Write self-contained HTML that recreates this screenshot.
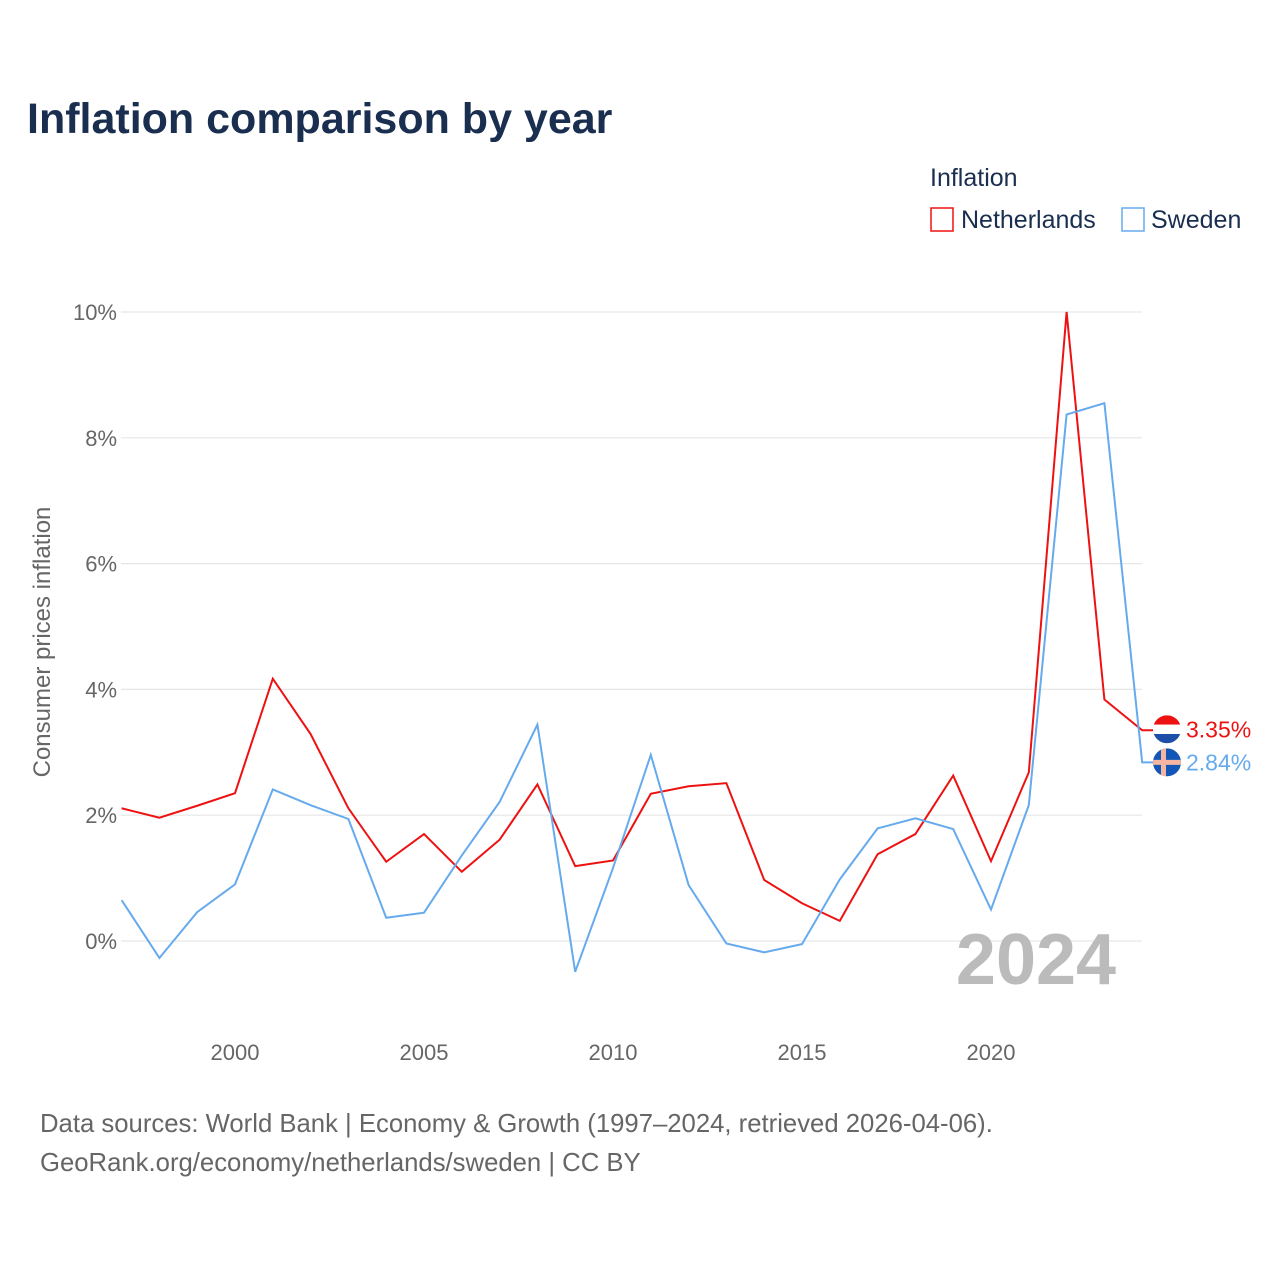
<!DOCTYPE html>
<html><head><meta charset="utf-8"><style>
body{margin:0;background:#fff;font-family:"Liberation Sans",sans-serif}
</style></head><body>
<svg width="1280" height="1280" viewBox="0 0 1280 1280" style="display:block">
<text x="27" y="133" font-size="43" font-weight="bold" fill="#1a2e4f">Inflation comparison by year</text>
<text x="930" y="186" font-size="25" fill="#1a2e4f">Inflation</text>
<g><rect x="931" y="208" width="22" height="23" fill="none" stroke="#ee1111" stroke-width="1.5"/><text x="961" y="228" font-size="25" fill="#1a2e4f">Netherlands</text></g>
<g><rect x="1122" y="208" width="22" height="23" fill="none" stroke="#66aaee" stroke-width="1.5"/><text x="1151" y="228" font-size="25" fill="#1a2e4f">Sweden</text></g>
<g id="grid"></g><g id="xt"></g>
<text x="1036" y="984" font-size="72" font-weight="bold" fill="#bbbbbb" text-anchor="middle">2024</text>
<text transform="translate(50,642) rotate(-90)" font-size="24" fill="#666" text-anchor="middle">Consumer prices inflation</text>
<g id="lines"></g>
<text x="40" y="1132" font-size="25.7" fill="#666">Data sources: World Bank | Economy &amp; Growth (1997–2024, retrieved 2026-04-06).</text>
<text x="40" y="1171" font-size="25.7" fill="#666">GeoRank.org/economy/netherlands/sweden | CC BY</text>
</svg>
<script>
const years=[1997,1998,1999,2000,2001,2002,2003,2004,2005,2006,2007,2008,2009,2010,2011,2012,2013,2014,2015,2016,2017,2018,2019,2020,2021,2022,2023,2024];
const netherlands=[2.11,1.96,2.15,2.35,4.17,3.29,2.11,1.26,1.70,1.10,1.61,2.49,1.19,1.28,2.34,2.46,2.51,0.97,0.60,0.32,1.38,1.70,2.63,1.27,2.68,10.0,3.84,3.35];
const sweden=[0.65,-0.27,0.46,0.90,2.41,2.16,1.94,0.37,0.45,1.36,2.21,3.44,-0.49,1.16,2.96,0.89,-0.04,-0.18,-0.05,0.98,1.79,1.95,1.78,0.50,2.16,8.37,8.55,2.84];
const yTicks=[0,2,4,6,8,10];
const xTicks=[2000,2005,2010,2015,2020];
const NS="http://www.w3.org/2000/svg";
const X=y=>235+(y-2000)*37.8, Y=v=>941-v*62.9;
function mk(t,a,p){const e=document.createElementNS(NS,t);for(const k in a)e.setAttribute(k,a[k]);p.appendChild(e);return e;}
const g=document.getElementById('grid');
yTicks.forEach(v=>{
 const l=mk('line',{x1:121,x2:1142,y1:Y(v),y2:Y(v),stroke:'#e6e6e6','stroke-width':1.2},g);
 
 
 const t=mk('text',{x:117,y:Y(v)+8,'font-size':22,fill:'#666','text-anchor':'end'},g);t.textContent=v+'%';
 
 
});
const xt=document.getElementById('xt');
xTicks.forEach(v=>{
 const t=mk('text',{x:X(v),y:1060,'font-size':22,fill:'#666','text-anchor':'middle'},xt);t.textContent=v;
 
 
});
const L=document.getElementById('lines');
function series(vals,col,name){
 const last=vals[vals.length-1];
 const pts=vals.map((v,i)=>X(years[i])+','+Y(v)).join(' ')+' '+(X(2024)+25)+','+Y(last);
 const p=mk('polyline',{points:pts,fill:'none',stroke:col,'stroke-width':2},L);
 
 
 return last;
}
const nl=series(netherlands,'#ee1111','netherlands');
const se=series(sweden,'#66aaee','sweden');
const cx=1167;
let ny=Y(nl)-1, sy=Y(se);
const f1=mk('g',{},L);


mk('clipPath',{id:'c1'},f1);mk('circle',{cx:cx,cy:ny,r:14},f1.lastChild);
mk('rect',{x:cx-14,y:ny-14,width:28,height:9.4,fill:'#ee1111','clip-path':'url(#c1)'},f1);
mk('rect',{x:cx-14,y:ny-4.6,width:28,height:9.4,fill:'#fff','clip-path':'url(#c1)'},f1);
mk('rect',{x:cx-14,y:ny+4.7,width:28,height:9.4,fill:'#1e4fa8','clip-path':'url(#c1)'},f1);
const f2=mk('g',{},L);


mk('clipPath',{id:'c2'},f2);mk('circle',{cx:cx,cy:sy,r:14},f2.lastChild);
mk('rect',{x:cx-14,y:sy-14,width:28,height:28,fill:'#1257b8','clip-path':'url(#c2)'},f2);
mk('rect',{x:cx-6,y:sy-14,width:5,height:28,fill:'#f5b5a0','clip-path':'url(#c2)'},f2);
mk('rect',{x:cx-14,y:sy-2.5,width:28,height:5,fill:'#f5b5a0','clip-path':'url(#c2)'},f2);
const t1=mk('text',{x:1186,y:ny+8,'font-size':23,fill:'#ee1111'},L);t1.textContent=nl.toFixed(2)+'%';


const t2=mk('text',{x:1186,y:sy+8,'font-size':23,fill:'#66aaee'},L);t2.textContent=se.toFixed(2)+'%';


</script>
</body></html>
